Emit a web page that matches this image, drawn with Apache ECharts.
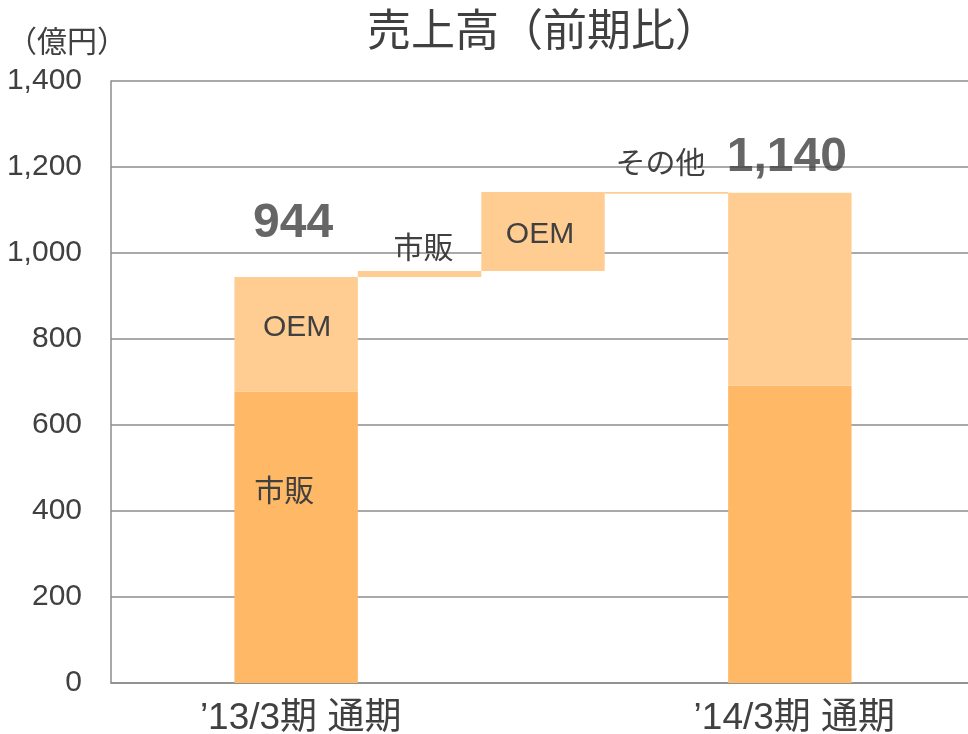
<!DOCTYPE html>
<html>
<head>
<meta charset="utf-8">
<script src="https://cdn.jsdelivr.net/npm/echarts@6/dist/echarts.min.js"></script>
<style>
  html, body { margin: 0; padding: 0; background: #fff; overflow: hidden; }
  /* the plot runs a few pixels past the right edge of the picture */
  #chart { width: 975px; height: 734px; }
</style>
</head>
<body>
<div id="chart"></div>
<script>
// 売上高 waterfall (億円)
const categories = ['', '\u201913/3期 通期', '', '', '', '\u201914/3期 通期', '']
const baseValues = [0, 0, 944, 958, 1138, 0, 0]       // invisible offset
const ichihanValues = [null, 678, null, null, null, 691, null]   // 市販
const oemValues = [null, 266, null, null, null, 449, null]       // OEM
const deltaValues = [null, null, 14, 184, 4, null, null]         // 増減
const totalValues = [null, 944, null, null, null, 1140, null]
const yTicks = { min: 0, max: 1400, interval: 200 }

const dark = '#FFB866'
const light = '#FFCD91'
const textColor = '#404040'
const font = "'Liberation Sans', 'Noto Sans CJK JP', sans-serif"

const chart = echarts.init(document.getElementById('chart'))

const deltaLabels = ['市販', 'OEM', 'その他']
const deltaOffsets = [[4, 0], [-3, 3], [-6, 0]]
const deltaData = deltaValues.map((v, i) => {
  if (v === null) return null
  const k = i - 2
  const item = { value: v, label: { show: true, formatter: deltaLabels[k], offset: deltaOffsets[k] } }
  if (k === 1) {
    item.label.position = 'inside'
  } else {
    item.label.position = 'top'
    item.label.distance = k === 0 ? 6 : 12
  }
  return item
})

chart.setOption({
  animation: false,
  textStyle: { fontFamily: font },
  title: [{
    text: '売上高（前期比）',
    left: 362,
    top: 7,
    textStyle: { fontSize: 44, fontWeight: 'normal', color: textColor, fontFamily: font }
  }, {
    text: '（億円）',
    left: 2,
    top: 24,
    textStyle: { fontSize: 30, fontWeight: 'normal', color: textColor, fontFamily: font }
  }],
  grid: { left: 111, right: 0, top: 81, bottom: 51, outerBoundsMode: 'none' },
  xAxis: {
    type: 'category',
    data: categories,
    axisTick: { show: false },
    axisLine: { lineStyle: { color: '#8c8c8c', width: 1.5 } },
    axisLabel: { interval: 0, fontSize: 37, color: textColor, margin: 17, padding: [0, 0, 0, 9], fontFamily: font }
  },
  yAxis: {
    type: 'value',
    min: yTicks.min,
    max: yTicks.max,
    interval: yTicks.interval,
    axisLine: { show: true, lineStyle: { color: '#8c8c8c', width: 1.5 } },
    axisTick: { show: false },
    splitLine: { lineStyle: { color: '#8c8c8c', width: 1.5 } },
    axisLabel: { fontSize: 30, color: textColor, margin: 29, fontFamily: font }
  },
  series: [{
    name: 'base',
    type: 'bar',
    stack: 'w',
    barCategoryGap: 0,
    itemStyle: { color: 'transparent' },
    data: baseValues,
    silent: true
  }, {
    name: '市販',
    type: 'bar',
    stack: 'w',
    barCategoryGap: 0,
    itemStyle: { color: dark },
    data: ichihanValues.map((v, i) => i === 1
      ? { value: v, label: { show: true, position: 'inside', formatter: '市販', offset: [-12, -44] } }
      : v),
    label: { fontSize: 30, color: textColor, fontFamily: font }
  }, {
    name: 'OEM',
    type: 'bar',
    stack: 'w',
    barCategoryGap: 0,
    itemStyle: { color: light },
    data: oemValues.map((v, i) => i === 1
      ? { value: v, label: { show: true, position: 'inside', formatter: 'OEM', offset: [1, -7] } }
      : v),
    label: { fontSize: 30, color: textColor, fontFamily: font }
  }, {
    name: '増減',
    type: 'bar',
    stack: 'w',
    barCategoryGap: 0,
    itemStyle: { color: light },
    data: deltaData,
    label: { fontSize: 30, color: textColor, fontFamily: font }
  }, {
    name: '合計',
    type: 'scatter',
    symbolSize: 0,
    data: totalValues.map((v, i) => v === null ? null : {
      value: v,
      label: { distance: i === 1 ? 29 : 11 }
    }),
    label: {
      show: true,
      position: 'top',
      offset: [-3, 0],
      fontSize: 48,
      fontWeight: 'bold',
      color: textColor,
      fontFamily: font,
      formatter: p => p.value.toLocaleString('en-US')
    }
  }]
})
</script>
</body>
</html>
